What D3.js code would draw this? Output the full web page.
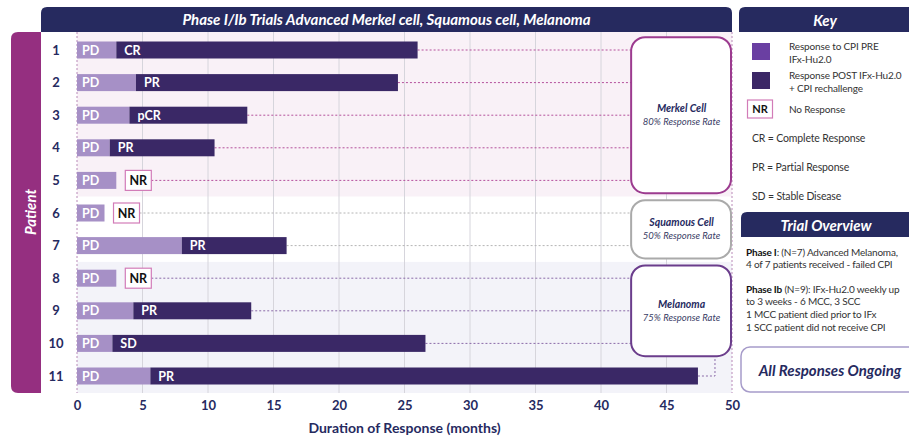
<!DOCTYPE html>
<html>
<head>
<meta charset="utf-8">
<script src="https://cdn.jsdelivr.net/npm/d3@7"></script>
<style>
  body { margin: 0; background: #fff; }
  svg { font-family: Lato, "Open Sans", sans-serif; }
</style>
</head>
<body>
<div id="chart"></div>
<script>
// data
const patients = ["1", "2", "3", "4", "5", "6", "7", "8", "9", "10", "11"];
const pdMonths = [3, 4.5, 4, 2.5, 3, 2.1, 8, 3, 4.3, 2.7, 5.6];
const endMonths = [26, 24.5, 13, 10.5, null, null, 16, null, 13.3, 26.6, 47.4];
const responses = ["CR", "PR", "pCR", "PR", "NR", "NR", "PR", "NR", "PR", "SD", "PR"];
const cohorts = ["Merkel Cell", "Squamous Cell", "Melanoma"];
const responseRates = ["80%", "50%", "75%"];
const cohortOf = [0, 0, 0, 0, 0, 1, 1, 2, 2, 2, 2];
const xTicks = [0, 5, 10, 15, 20, 25, 30, 35, 40, 45, 50];

const keyItems = ["Response to CPI PRE|IFx-Hu2.0", "Response POST IFx-Hu2.0|+ CPI rechallenge", "No Response"];
const keyNotes = ["CR = Complete Response", "PR = Partial Response", "SD = Stable Disease"];

const W = 909, H = 436;
const navy = "#262a5f";
const pdColor = "#a690c6";
const respColor = "#3a2866";
const bandFill = ["#f9f1f7", "#ffffff", "#f3f3f9"];
const boxStroke = ["#9c3b8f", "#aaaaaa", "#6b3d8c"];
const dotColor = ["#b4509c", "#b4b4b4", "#8a6aa8"];

const svg = d3.select("#chart").append("svg")
    .attr("width", W)
    .attr("height", H);

const x = d3.scaleLinear().domain([0, 50]).range([77, 732]);
const y = d3.scaleBand().domain(patients).range([33.7, 392.3]);
const barH = 17;
const plotTop = 32, plotBottom = 393;

// cohort background bands
const firstRow = cohorts.map((c, i) => cohortOf.indexOf(i));
const lastRow = cohorts.map((c, i) => cohortOf.lastIndexOf(i));

svg.append("g").selectAll("rect")
  .data(cohorts)
  .join("rect")
    .attr("x", x(0))
    .attr("width", x(50) - x(0))
    .attr("y", (d, i) => i == 0 ? plotTop : y(patients[firstRow[i]]))
    .attr("height", (d, i) => {
      let y0 = i == 0 ? plotTop : y(patients[firstRow[i]]);
      let y1 = i == cohorts.length - 1 ? plotBottom : y(patients[lastRow[i]]) + y.step();
      return y1 - y0;
    })
    .attr("fill", (d, i) => bandFill[i]);

// grid
svg.append("g").selectAll("line")
  .data(xTicks.filter(t => t > 0 && t < 50))
  .join("line")
    .attr("x1", d => x(d)).attr("x2", d => x(d))
    .attr("y1", plotTop).attr("y2", plotBottom)
    .attr("stroke", "#d6d5dc")
    .attr("stroke-width", 1);

svg.append("g").selectAll("line")
  .data([0, 50])
  .join("line")
    .attr("x1", d => x(d)).attr("x2", d => x(d))
    .attr("y1", plotTop).attr("y2", plotBottom)
    .attr("stroke", "#b98ab8")
    .attr("stroke-dasharray", "2,2");

// title bar
svg.append("path")
  .attr("d", roundTop(41, 7, 732 - 41, 25, 6))
  .attr("fill", navy);
svg.append("text")
  .attr("x", (41 + 732) / 2).attr("y", 25)
  .attr("text-anchor", "middle")
  .attr("fill", "#fff")
  .style("font-size", "15px").style("font-weight", 700).style("font-style", "italic")
  .text("Phase I/Ib Trials Advanced Merkel cell, Squamous cell, Melanoma");

// patient bar
svg.append("path")
  .attr("d", roundLeft(11, 32, 30, 361, 7))
  .attr("fill", "#952f80");
svg.append("text")
  .attr("transform", "translate(31,212) rotate(-90)")
  .attr("text-anchor", "middle")
  .attr("dy", "0.35em")
  .attr("fill", "#fff")
  .style("font-size", "15px").style("font-weight", 700).style("font-style", "italic")
  .text("Patient");

svg.append("g").selectAll("text")
  .data(patients)
  .join("text")
    .attr("x", 56)
    .attr("y", d => y(d) + y.step() / 2)
    .attr("dy", "0.35em")
    .attr("text-anchor", "middle")
    .attr("fill", navy)
    .style("font-size", "13px").style("font-weight", 700)
    .text(d => d);

// row data
const rows = patients.map((p, i) => ({
  p, pd: pdMonths[i], end: endMonths[i], resp: responses[i], c: cohortOf[i], i
}));

const boxLeft = 42.3;
const nrGap = 9, nrW = 26, nrH = 20;

function rowEndX(d) {
  if (d.end == null) return x(d.pd) + nrGap + nrW;
  return x(d.end);
}

// dotted leader lines
const leaders = svg.append("g");
rows.forEach(d => {
  const cy = y(d.p) + y.step() / 2;
  if (d.i == patients.length - 1) {
    leaders.append("path")
      .attr("d", `M${rowEndX(d)},${cy}H${x(48.7)}V${y(patients[d.i - 1]) + y.step() - 2}`)
      .attr("fill", "none")
      .attr("stroke", dotColor[d.c])
      .attr("stroke-dasharray", "2,2");
  } else {
    leaders.append("line")
      .attr("x1", rowEndX(d)).attr("x2", x(boxLeft))
      .attr("y1", cy).attr("y2", cy)
      .attr("stroke", dotColor[d.c])
      .attr("stroke-dasharray", "2,2");
  }
});

// bars
const bars = svg.append("g").selectAll("g")
  .data(rows)
  .join("g")
    .attr("transform", d => `translate(0,${y(d.p) + (y.step() - barH) / 2})`);

bars.append("rect")
  .attr("x", x(0))
  .attr("width", d => x(d.pd) - x(0))
  .attr("height", barH)
  .attr("fill", pdColor);

bars.filter(d => d.end != null).append("rect")
  .attr("x", d => x(d.pd))
  .attr("width", d => x(d.end) - x(d.pd))
  .attr("height", barH)
  .attr("fill", respColor);

bars.append("text")
  .attr("x", x(0) + 5)
  .attr("y", barH / 2)
  .attr("dy", "0.36em")
  .attr("fill", "#fff")
  .style("font-size", "12.5px").style("font-weight", 700)
  .text("PD");

bars.filter(d => d.end != null).append("text")
  .attr("x", d => x(d.pd) + 8)
  .attr("y", barH / 2)
  .attr("dy", "0.36em")
  .attr("fill", "#fff")
  .style("font-size", "12.5px").style("font-weight", 700)
  .text(d => d.resp);

const nr = bars.filter(d => d.end == null);
nr.append("rect")
  .attr("x", d => x(d.pd) + nrGap)
  .attr("y", (barH - nrH) / 2)
  .attr("width", nrW)
  .attr("height", nrH)
  .attr("fill", "#fff")
  .attr("stroke", "#d27cb8")
  .attr("stroke-width", 1.2);
nr.append("text")
  .attr("x", d => x(d.pd) + nrGap + nrW / 2)
  .attr("y", barH / 2)
  .attr("dy", "0.36em")
  .attr("text-anchor", "middle")
  .attr("fill", "#111")
  .style("font-size", "12.5px").style("font-weight", 700)
  .text("NR");

// cohort boxes
const boxRows = [[0, 4], [5, 6], [7, 9]];
const cb = svg.append("g").selectAll("g")
  .data(cohorts)
  .join("g");
cb.append("rect")
  .attr("x", x(boxLeft))
  .attr("y", (d, i) => y(patients[boxRows[i][0]]) + 3.5)
  .attr("width", x(50) - x(boxLeft) - 1)
  .attr("height", (d, i) => y(patients[boxRows[i][1]]) + y.step() - y(patients[boxRows[i][0]]) - 7)
  .attr("rx", 14)
  .attr("fill", "#fff")
  .attr("stroke", (d, i) => boxStroke[i])
  .attr("stroke-width", 2);
const boxMid = (i) => (y(patients[boxRows[i][0]]) + y(patients[boxRows[i][1]]) + y.step()) / 2;
cb.append("text")
  .attr("x", (x(boxLeft) + x(50)) / 2)
  .attr("y", (d, i) => boxMid(i) - 3)
  .attr("text-anchor", "middle")
  .attr("fill", navy)
  .style("font-size", "10.5px").style("font-weight", 700).style("font-style", "italic")
  .text(d => d);
cb.append("text")
  .attr("x", (x(boxLeft) + x(50)) / 2)
  .attr("y", (d, i) => boxMid(i) + 10)
  .attr("text-anchor", "middle")
  .attr("fill", "#3a3d66")
  .style("font-size", "9.5px").style("font-style", "italic")
  .text((d, i) => responseRates[i] + " Response Rate");

// x axis
const xAxis = svg.append("g")
  .attr("transform", `translate(0,${plotBottom + 8})`)
  .call(d3.axisBottom(x).tickValues(xTicks).tickSize(0).tickPadding(0));
xAxis.select(".domain").remove();
xAxis.selectAll("text")
  .attr("fill", navy)
  .style("font-family", "Lato, sans-serif")
  .style("font-size", "13px").style("font-weight", 700);

svg.append("text")
  .attr("x", (x(0) + x(50)) / 2 + 0)
  .attr("y", 433)
  .attr("text-anchor", "middle")
  .attr("fill", navy)
  .style("font-size", "14px").style("font-weight", 700)
  .text("Duration of Response (months)");

// key panel
const kx = 739;
svg.append("path")
  .attr("d", roundTop(kx, 7, 190, 25, 6))
  .attr("fill", navy);
svg.append("text")
  .attr("x", 825).attr("y", 25.5)
  .attr("text-anchor", "middle")
  .attr("fill", "#fff")
  .style("font-size", "15px").style("font-weight", 700).style("font-style", "italic")
  .text("Key");

const keyColors = ["#6a3fa2", "#3b2766"];
const keyG = svg.append("g").selectAll("g")
  .data(keyItems)
  .join("g")
    .attr("transform", (d, i) => `translate(0,${[43, 72, 100][i]})`);
keyG.filter((d, i) => i < 2).append("rect")
  .attr("x", 752).attr("width", 18).attr("height", 17)
  .attr("fill", (d, i) => keyColors[i]);
keyG.filter((d, i) => i == 2).append("rect")
  .attr("x", 747.5).attr("width", 25).attr("height", 18)
  .attr("fill", "#fff").attr("stroke", "#d27cb8").attr("stroke-width", 1.2);
keyG.filter((d, i) => i == 2).append("text")
  .attr("x", 760).attr("y", 13)
  .attr("text-anchor", "middle")
  .attr("fill", "#111")
  .style("font-size", "11px").style("font-weight", 700)
  .text("NR");
keyG.append("text")
  .attr("x", 789)
  .attr("fill", "#333")
  .style("font-size", "10px")
  .style("letter-spacing", "-0.15px")
  .selectAll("tspan")
  .data(d => d.split("|"))
  .join("tspan")
    .attr("x", 789)
    .attr("y", (d, i, n) => n.length == 1 ? 13 : 7 + i * 13)
    .text(d => d);

svg.append("g").selectAll("text")
  .data(keyNotes)
  .join("text")
    .attr("x", 752)
    .attr("y", (d, i) => 142 + i * 29)
    .attr("fill", "#333")
    .style("font-size", "10.5px")
    .style("letter-spacing", "-0.15px")
    .text(d => d);

// trial overview
svg.append("path")
  .attr("d", roundTop(741, 212, 190, 25, 6))
  .attr("fill", navy);
svg.append("text")
  .attr("x", 826).attr("y", 230.5)
  .attr("text-anchor", "middle")
  .attr("fill", "#fff")
  .style("font-size", "15px").style("font-weight", 700).style("font-style", "italic")
  .text("Trial Overview");

const overview = [
  [["Phase I", true], [": (N=7)   Advanced Melanoma,", false]],
  [["4 of 7 patients received - failed CPI", false]],
  [["Phase Ib", true], [" (N=9):  IFx-Hu2.0 weekly up", false]],
  [["to 3 weeks - 6 MCC, 3 SCC", false]],
  [["1 MCC patient died prior to IFx", false]],
  [["1 SCC patient did not receive CPI", false]]
];
const ovY = [256, 268, 293, 305, 318, 331];
svg.append("g").selectAll("text")
  .data(overview)
  .join("text")
    .attr("x", 746)
    .attr("y", (d, i) => ovY[i])
    .attr("fill", "#333")
    .style("font-size", "10px")
    .style("letter-spacing", "-0.2px")
  .selectAll("tspan")
  .data(d => d)
  .join("tspan")
    .style("font-weight", d => d[1] ? 700 : 400)
    .attr("fill", d => d[1] ? "#111" : "#333")
    .text(d => d[0]);

svg.append("rect")
  .attr("x", 741).attr("y", 347)
  .attr("width", 190).attr("height", 45)
  .attr("rx", 9)
  .attr("fill", "#fff")
  .attr("stroke", "#a79cca")
  .attr("stroke-width", 1.5);
svg.append("text")
  .attr("x", 830).attr("y", 376)
  .attr("text-anchor", "middle")
  .attr("fill", navy)
  .style("font-size", "15px").style("font-weight", 700).style("font-style", "italic")
  .text("All Responses Ongoing");

function roundTop(x0, y0, w, h, r) {
  return `M${x0},${y0 + h}V${y0 + r}Q${x0},${y0} ${x0 + r},${y0}H${x0 + w - r}Q${x0 + w},${y0} ${x0 + w},${y0 + r}V${y0 + h}Z`;
}
function roundLeft(x0, y0, w, h, r) {
  return `M${x0 + w},${y0}H${x0 + r}Q${x0},${y0} ${x0},${y0 + r}V${y0 + h - r}Q${x0},${y0 + h} ${x0 + r},${y0 + h}H${x0 + w}Z`;
}
</script>
</body>
</html>
